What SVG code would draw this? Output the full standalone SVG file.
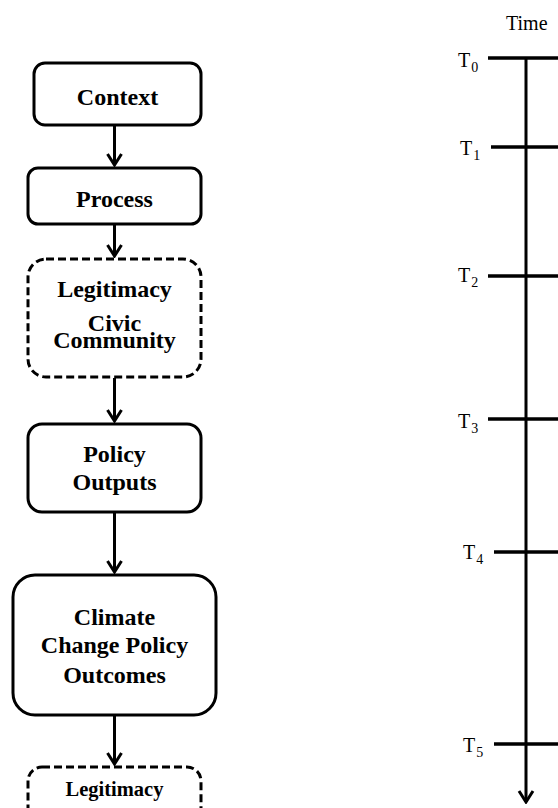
<svg xmlns="http://www.w3.org/2000/svg" width="558" height="808" viewBox="0 0 558 808">
  <style>
    .box { fill: #fff; stroke: #000; stroke-width: 3; }
    .dashed { stroke-dasharray: 8 4; }
    .lbl { font-family: "Liberation Serif", "Times New Roman", serif; font-weight: bold; font-size: 24px; text-anchor: middle; fill: #000; }
    .lbl-sm { font-size: 20.5px; }
    .tl { font-family: "Liberation Serif", "Times New Roman", serif; font-size: 20px; fill: #000; }
    .sub { font-size: 14px; }
    .conn { stroke: #000; stroke-width: 3; fill: none; }
    .tick { stroke: #000; stroke-width: 3.5; fill: none; }
  </style>
  <defs>
    <marker id="arr" viewBox="-14 -9 16 18" markerWidth="16" markerHeight="18" refX="0" refY="0" markerUnits="userSpaceOnUse" orient="auto">
      <path d="M-11,-7 L0,0 L-11,7" fill="none" stroke="#000" stroke-width="3"/>
    </marker>
  </defs>

  <g id="connectors">
    <line class="conn" x1="114.5" y1="126" x2="114.5" y2="165" marker-end="url(#arr)"/>
    <line class="conn" x1="114.5" y1="225" x2="114.5" y2="256" marker-end="url(#arr)"/>
    <line class="conn" x1="114.5" y1="378" x2="114.5" y2="421" marker-end="url(#arr)"/>
    <line class="conn" x1="114.5" y1="513" x2="114.5" y2="572" marker-end="url(#arr)"/>
    <line class="conn" x1="114.5" y1="716" x2="114.5" y2="764" marker-end="url(#arr)"/>
  </g>

  <g id="context">
    <rect class="box" x="34" y="63" width="167" height="62" rx="11"/>
    <text class="lbl" x="117.5" y="105">Context</text>
  </g>
  <g id="process">
    <rect class="box" x="28" y="168" width="173" height="56" rx="10"/>
    <text class="lbl" x="114.5" y="207">Process</text>
  </g>
  <g id="legitimacy-civic">
    <rect class="box dashed" x="28" y="259" width="173" height="118" rx="18"/>
    <text class="lbl" x="114.5" y="297">Legitimacy</text>
    <text class="lbl" x="114.5" y="331">Civic</text>
    <text class="lbl" x="114.5" y="348">Community</text>
  </g>
  <g id="policy-outputs">
    <rect class="box" x="28" y="424" width="173" height="88" rx="14"/>
    <text class="lbl" x="114.5" y="462">Policy</text>
    <text class="lbl" x="114.5" y="490">Outputs</text>
  </g>
  <g id="climate-outcomes">
    <rect class="box" x="13" y="575" width="203" height="140" rx="22"/>
    <text class="lbl" x="114.5" y="625">Climate</text>
    <text class="lbl" x="114.5" y="653">Change Policy</text>
    <text class="lbl" x="114.5" y="683">Outcomes</text>
  </g>
  <g id="legitimacy-bottom">
    <rect class="box dashed" x="28" y="767" width="173" height="70" rx="14"/>
    <text class="lbl lbl-sm" x="114.5" y="796">Legitimacy</text>
  </g>

  <g id="timeline">
    <text class="tl" x="506" y="30">Time</text>
    <line class="conn" x1="526" y1="57" x2="526" y2="802" marker-end="url(#arr)"/>
    <line class="tick" x1="488" y1="58" x2="560" y2="58"/>
    <line class="tick" x1="491" y1="147" x2="560" y2="147"/>
    <line class="tick" x1="488" y1="276" x2="560" y2="276"/>
    <line class="tick" x1="488" y1="419" x2="560" y2="419"/>
    <line class="tick" x1="494" y1="552" x2="560" y2="552"/>
    <line class="tick" x1="494" y1="744" x2="560" y2="744"/>
    <text class="tl" x="458" y="67">T<tspan class="sub" dx="1" dy="5">0</tspan></text>
    <text class="tl" x="460" y="155">T<tspan class="sub" dx="1" dy="5">1</tspan></text>
    <text class="tl" x="458" y="282">T<tspan class="sub" dx="1" dy="5">2</tspan></text>
    <text class="tl" x="458" y="428">T<tspan class="sub" dx="1" dy="5">3</tspan></text>
    <text class="tl" x="463" y="559">T<tspan class="sub" dx="1" dy="5">4</tspan></text>
    <text class="tl" x="463" y="752">T<tspan class="sub" dx="1" dy="5">5</tspan></text>
  </g>
</svg>
